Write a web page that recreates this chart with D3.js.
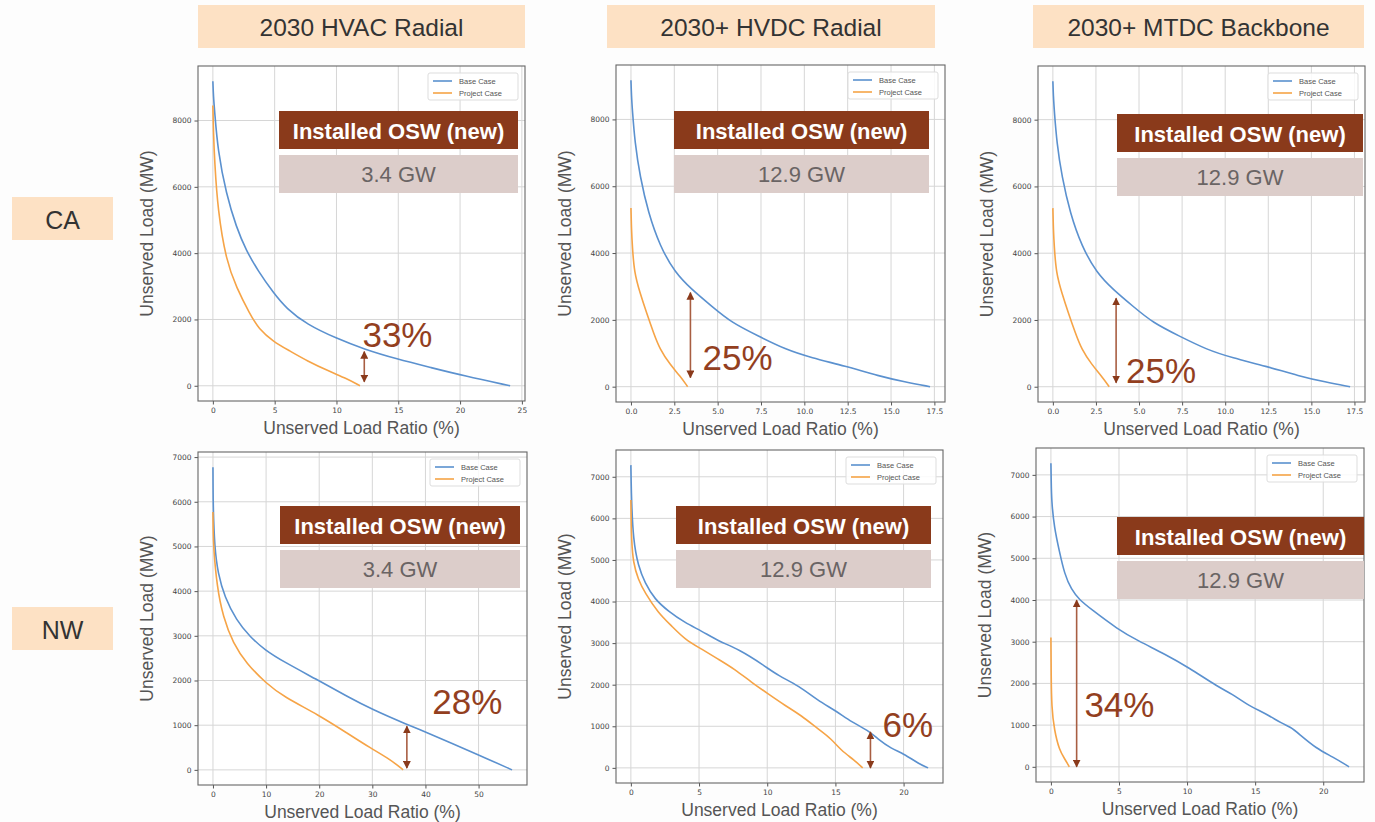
<!DOCTYPE html>
<html>
<head>
<meta charset="utf-8">
<script src="https://cdn.jsdelivr.net/npm/d3@7"></script>
<style>
  html, body { margin: 0; padding: 0; background: #fdfdfd; }
  svg { display: block; font-family: Arial, "Liberation Sans", Helvetica, sans-serif; }
</style>
</head>
<body>
<svg id="chart" width="1375" height="822"></svg>
<script>
// ---------------- DATA ----------------
const columnTitles = ["2030 HVAC Radial", "2030+ HVDC Radial", "2030+ MTDC Backbone"];
const rowLabels = ["CA", "NW"];
const seriesNames = ["Base Case", "Project Case"];
const xLabel = "Unserved Load Ratio (%)";
const yLabel = "Unserved Load (MW)";
const boxTitle = "Installed OSW (new)";
const oswCapacity = ["3.4 GW", "12.9 GW", "12.9 GW", "3.4 GW", "12.9 GW", "12.9 GW"];
const reductionLabels = ["33%", "25%", "25%", "28%", "6%", "34%"];

// tick values
const xTicksCA_HVAC = [0, 5, 10, 15, 20, 25];
const xTicksCA_DC = [0, 2.5, 5, 7.5, 10, 12.5, 15, 17.5];
const xTicksNW_HVAC = [0, 10, 20, 30, 40, 50];
const xTicksNW_DC = [0, 5, 10, 15, 20];
const yTicksCA = [0, 2000, 4000, 6000, 8000];
const yTicksNW = [0, 1000, 2000, 3000, 4000, 5000, 6000, 7000];

// series: [unserved load ratio %, unserved load MW]
const CA_HVAC_BASE = [[0,9185],[0.05,8700],[0.14,8300],[0.4,7090],[1.08,5785],[1.9,4780],[2.7,4075],[3.65,3470],[4.9,2800],[5.95,2330],[7.6,1850],[10,1430],[12.2,1107],[14.9,805],[17.6,553],[20.3,300],[24.05,0]];
const CA_HVAC_PROJECT = [[0,8450],[0.05,7600],[0.14,6790],[0.4,5280],[1.08,3770],[1.9,2970],[3,2160],[3.7,1720],[4.9,1330],[6.2,1056],[7.6,755],[9.5,420],[10.8,220],[11.9,0]];
const CA_HVDC_BASE = [[0,9170],[0.03,8700],[0.08,8290],[0.23,7300],[0.52,6300],[1,5200],[1.67,4210],[2.54,3410],[3.5,2910],[4.65,2410],[5.8,1915],[7.35,1515],[8.9,1117],[10.4,867],[12.35,618],[14.3,319],[15.8,140],[17.25,0]];
const CA_HVDC_PROJECT = [[0,5350],[0.03,4700],[0.08,4210],[0.19,3410],[0.52,2810],[0.9,2210],[1.3,1615],[1.67,1117],[2.25,668],[2.83,319],[3.27,0]];
const CA_MTDC_BASE = [[0,9150],[0.03,8700],[0.08,8290],[0.23,7300],[0.52,6300],[1,5200],[1.67,4210],[2.54,3410],[3.5,2910],[4.65,2410],[5.8,1915],[7.35,1515],[8.9,1117],[10.4,867],[12.35,618],[14.3,319],[15.8,140],[17.25,0]];
const CA_MTDC_PROJECT = [[0,5350],[0.03,4700],[0.08,4210],[0.19,3410],[0.52,2810],[0.9,2210],[1.3,1615],[1.67,1117],[2.25,668],[2.83,319],[3.27,0]];
const NW_HVAC_BASE = [[0,6775],[0.02,6300],[0.05,5880],[0.3,4990],[0.95,4390],[2.2,3870],[4.4,3350],[6.96,2980],[9.8,2680],[13.3,2420],[19.9,2000],[25.3,1640],[29.9,1355],[36.7,1005],[39.9,856],[44.9,596],[50,335],[56.3,0]];
const NW_HVAC_PROJECT = [[0,5770],[0.03,5400],[0.1,4990],[0.76,4095],[1.9,3425],[3.8,2830],[6.3,2383],[10,1936],[13.3,1638],[19.9,1229],[25.3,819],[29.7,484],[33.5,223],[35.8,0]];
const NW_HVDC_BASE = [[0,7280],[0.02,6900],[0.05,6440],[0.17,5490],[0.54,4850],[1.03,4450],[1.76,4050],[2.74,3770],[3.96,3490],[5.2,3290],[6.4,3050],[7.9,2855],[9.8,2456],[10.8,2217],[12.3,1978],[13.7,1620],[15,1380],[16.2,1100],[17.4,900],[18.1,700],[19.1,462],[20,343],[21.1,100],[21.8,0]];
const NW_HVDC_PROJECT = [[0,6440],[0.02,6000],[0.05,5490],[0.17,4930],[0.54,4530],[1.03,4210],[2,3730],[3,3410],[3.96,3090],[5.2,2855],[6.4,2615],[7.6,2376],[8.85,2057],[10.07,1778],[11.3,1500],[12.5,1260],[13.7,941],[14.7,700],[15.4,423],[16.4,183],[17,0]];
const NW_MTDC_BASE = [[0,7280],[0.02,6900],[0.05,6360],[0.25,5730],[0.62,5170],[1,4620],[1.5,4250],[2.1,4000],[2.95,3780],[4.9,3300],[6.4,3020],[8.4,2700],[10.1,2385],[12.3,1910],[13.3,1750],[14.3,1510],[15.8,1270],[17,1034],[17.6,955],[18.2,795],[19.5,437],[20.7,239],[21.9,0]];
const NW_MTDC_PROJECT = [[0,3100],[0.01,2700],[0.02,2230],[0.05,1430],[0.25,875],[0.62,400],[1,200],[1.35,0]];

// reduction arrows (data units): x, yTop, yBottom ; label anchor x, y
const arrowX = [12.25, 3.43, 3.67, 36.5, 17.57, 1.89];
const arrowTop = [1030, 2816, 2650, 975, 860, 3995];
const arrowBottom = [120, 270, 120, 40, 0, 0];
const labelX = [12.1, 4.13, 4.25, 41.3, 18.45, 2.46];
const labelY = [1170, 510, 120, 1240, 750, 1195];

// ---------------- LAYOUT / STYLE ----------------
const COLORS = { base: "#5b91cf", project: "#f6a447", brown: "#8a3a1b", pale: "#dccdca",
                 peach: "#fde1c4", grid: "#d6d6d6", spine: "#666", text: "#333", tick: "#555", pct: "#933f1f" };

const panels = [
  { base: CA_HVAC_BASE, proj: CA_HVAC_PROJECT, xt: xTicksCA_HVAC, yt: yTicksCA, xfmt: d3.format("d"),
    rect: [198, 66, 327, 335], box: [81, 7, 45] },
  { base: CA_HVDC_BASE, proj: CA_HVDC_PROJECT, xt: xTicksCA_DC, yt: yTicksCA, xfmt: d3.format(".1f"),
    rect: [616, 65, 329, 337], box: [58, 16, 46] },
  { base: CA_MTDC_BASE, proj: CA_MTDC_PROJECT, xt: xTicksCA_DC, yt: yTicksCA, xfmt: d3.format(".1f"),
    rect: [1038, 66, 327, 336], box: [79, 2, 48] },
  { base: NW_HVAC_BASE, proj: NW_HVAC_PROJECT, xt: xTicksNW_HVAC, yt: yTicksNW, xfmt: d3.format("d"),
    rect: [198, 452, 329, 333], box: [82, 7, 54] },
  { base: NW_HVDC_BASE, proj: NW_HVDC_PROJECT, xt: xTicksNW_DC, yt: yTicksNW, xfmt: d3.format("d"),
    rect: [616, 450, 327, 333], box: [60, 12, 56] },
  { base: NW_MTDC_BASE, proj: NW_MTDC_PROJECT, xt: xTicksNW_DC, yt: yTicksNW, xfmt: d3.format("d"),
    rect: [1036, 448, 328, 334], box: [81, 0, 69] }
];

const svg = d3.select("#chart");
svg.append("rect").attr("width", 1375).attr("height", 822).attr("fill", "#fdfdfd");

// arrow markers
const defs = svg.append("defs");
["start", "end"].forEach(k => {
  defs.append("marker").attr("id", "arr-" + k)
    .attr("viewBox", "0 0 10 10").attr("refX", 9).attr("refY", 5)
    .attr("markerWidth", 5).attr("markerHeight", 5)
    .attr("orient", k === "end" ? "auto" : "auto-start-reverse")
    .append("path").attr("d", "M0,0 L10,5 L0,10 Z").attr("fill", COLORS.brown);
});

// column titles
const titleBoxes = [[198, 5, 327, 43], [607, 5, 328, 43], [1033, 5, 331, 43]];
columnTitles.forEach((t, i) => {
  const [x, y, w, h] = titleBoxes[i];
  svg.append("rect").attr("x", x).attr("y", y).attr("width", w).attr("height", h).attr("fill", COLORS.peach);
  svg.append("text").attr("x", x + w / 2).attr("y", y + h / 2 + 1).attr("text-anchor", "middle")
    .attr("dominant-baseline", "central").attr("font-size", 24.5).attr("fill", COLORS.text).text(t);
});
// row labels
const rowBoxes = [[12, 197, 101, 43], [12, 607, 101, 43]];
rowLabels.forEach((t, i) => {
  const [x, y, w, h] = rowBoxes[i];
  svg.append("rect").attr("x", x).attr("y", y).attr("width", w).attr("height", h).attr("fill", COLORS.peach);
  svg.append("text").attr("x", x + w / 2).attr("y", y + h / 2 + 1).attr("text-anchor", "middle")
    .attr("dominant-baseline", "central").attr("font-size", 25).attr("fill", COLORS.text).text(t);
});

function padDomain(ext) {
  const m = (ext[1] - ext[0]) * 0.05;
  return [ext[0] - m, ext[1] + m];
}

panels.forEach((p, i) => {
  const [L, T, W, H] = p.rect;
  const all = p.base.concat(p.proj);
  const x = d3.scaleLinear().domain(padDomain(d3.extent(all, d => d[0]))).range([L, L + W]);
  const y = d3.scaleLinear().domain(padDomain(d3.extent(all, d => d[1]))).range([T + H, T]);
  const g = svg.append("g");

  g.append("rect").attr("x", L).attr("y", T).attr("width", W).attr("height", H).attr("fill", "#fff");

  // grid
  g.append("g").selectAll("line").data(p.xt).join("line")
    .attr("x1", d => x(d)).attr("x2", d => x(d)).attr("y1", T).attr("y2", T + H)
    .attr("stroke", COLORS.grid).attr("stroke-width", 1);
  g.append("g").selectAll("line").data(p.yt).join("line")
    .attr("y1", d => y(d)).attr("y2", d => y(d)).attr("x1", L).attr("x2", L + W)
    .attr("stroke", COLORS.grid).attr("stroke-width", 1);

  // axes
  const xa = g.append("g").attr("transform", `translate(0,${T + H})`)
    .call(d3.axisBottom(x).tickValues(p.xt).tickFormat(p.xfmt).tickSize(3.5).tickPadding(3));
  const ya = g.append("g").attr("transform", `translate(${L},0)`)
    .call(d3.axisLeft(y).tickValues(p.yt).tickFormat(d3.format("d")).tickSize(3.5).tickPadding(3));
  [xa, ya].forEach(a => {
    a.select(".domain").remove();
    a.selectAll(".tick line").attr("stroke", COLORS.tick);
    a.selectAll(".tick text").attr("font-size", 7.5).attr("fill", "#444")
      .attr("font-family", "DejaVu Sans, sans-serif");
  });

  // curves
  const line = d3.line().x(d => x(d[0])).y(d => y(d[1])).curve(d3.curveBasis);
  g.append("path").datum(p.base).attr("d", line).attr("fill", "none")
    .attr("stroke", COLORS.base).attr("stroke-width", 1.6);
  g.append("path").datum(p.proj).attr("d", line).attr("fill", "none")
    .attr("stroke", COLORS.project).attr("stroke-width", 1.6);

  // spines
  g.append("rect").attr("x", L).attr("y", T).attr("width", W).attr("height", H)
    .attr("fill", "none").attr("stroke", COLORS.spine).attr("stroke-width", 1.1);

  // axis labels
  g.append("text").attr("x", L + W / 2).attr("y", T + H + 33).attr("text-anchor", "middle")
    .attr("font-size", 17.5).attr("fill", "#555").text(xLabel);
  g.append("text").attr("transform", `translate(${L - 51},${T + H / 2}) rotate(-90)`)
    .attr("text-anchor", "middle").attr("dominant-baseline", "central")
    .attr("font-size", 17.5).attr("fill", "#555").text(yLabel);

  // legend
  const lg = g.append("g").attr("transform", `translate(${L + W - 97},${T + 7})`);
  lg.append("rect").attr("width", 90).attr("height", 27).attr("rx", 2)
    .attr("fill", "#fff").attr("fill-opacity", 0.85).attr("stroke", "#ddd");
  [COLORS.base, COLORS.project].forEach((c, k) => {
    lg.append("line").attr("x1", 5).attr("x2", 24).attr("y1", 8 + k * 12).attr("y2", 8 + k * 12)
      .attr("stroke", c).attr("stroke-width", 1.6);
    lg.append("text").attr("x", 31).attr("y", 8 + k * 12).attr("dominant-baseline", "central")
      .attr("font-size", 7.5).attr("fill", "#555").text(seriesNames[k]);
  });

  // info boxes
  const [bl, br, bt] = p.box;
  const bx = L + bl, bw = W - bl - br, by = T + bt;
  g.append("rect").attr("x", bx).attr("y", by).attr("width", bw).attr("height", 38).attr("fill", COLORS.brown);
  g.append("text").attr("x", bx + bw / 2).attr("y", by + 20).attr("text-anchor", "middle")
    .attr("dominant-baseline", "central").attr("font-size", 22).attr("font-weight", "bold")
    .attr("fill", "#fff").text(boxTitle);
  g.append("rect").attr("x", bx).attr("y", by + 44).attr("width", bw).attr("height", 38).attr("fill", COLORS.pale);
  g.append("text").attr("x", bx + bw / 2).attr("y", by + 63).attr("text-anchor", "middle")
    .attr("dominant-baseline", "central").attr("font-size", 22).attr("fill", "#6a6464").text(oswCapacity[i]);

  // reduction arrow + label
  g.append("line").attr("x1", x(arrowX[i])).attr("x2", x(arrowX[i]))
    .attr("y1", y(arrowTop[i])).attr("y2", y(arrowBottom[i]))
    .attr("stroke", "#a85e42").attr("stroke-width", 1.6)
    .attr("marker-start", "url(#arr-start)").attr("marker-end", "url(#arr-end)");
  g.append("text").attr("x", x(labelX[i])).attr("y", y(labelY[i]))
    .attr("font-size", 35).attr("fill", COLORS.pct).text(reductionLabels[i]);
});
</script>
</body>
</html>
